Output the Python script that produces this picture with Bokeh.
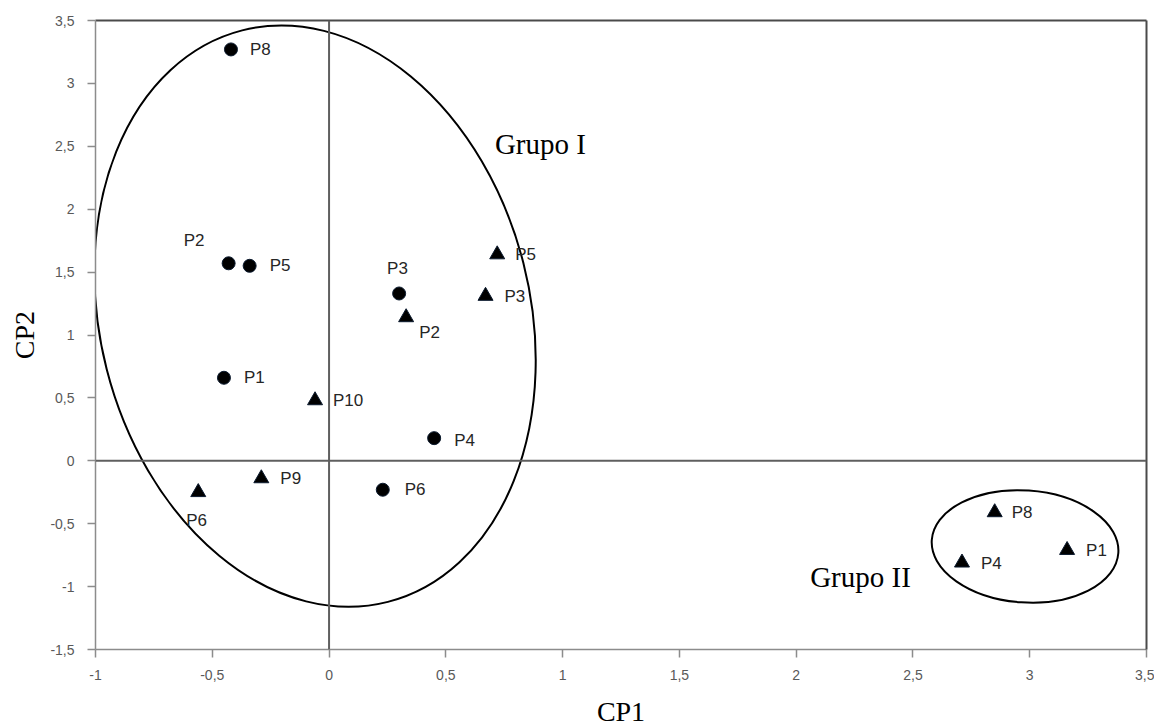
from bokeh.plotting import figure
from bokeh.models import (ColumnDataSource, LabelSet, Span, LinearAxis, FixedTicker, Range1d)
from bokeh.core.properties import value
from bokeh.embed import file_html
from bokeh.resources import INLINE

# ---------------- data ----------------
circle_names = ["P8", "P2", "P5", "P3", "P1", "P4", "P6"]
circle_x = [-0.42, -0.43, -0.34, 0.30, -0.45, 0.45, 0.23]
circle_y = [3.27, 1.57, 1.55, 1.33, 0.66, 0.18, -0.23]

tri_names = ["P5", "P3", "P2", "P10", "P9", "P6", "P8", "P4", "P1"]
tri_x = [0.72, 0.67, 0.33, -0.06, -0.29, -0.56, 2.85, 2.71, 3.16]
tri_y = [1.64, 1.31, 1.14, 0.48, -0.14, -0.25, -0.41, -0.81, -0.71]

x_ticks = [-1, -0.5, 0, 0.5, 1, 1.5, 2, 2.5, 3, 3.5]
x_tick_labels = ["-1", "-0,5", "0", "0,5", "1", "1,5", "2", "2,5", "3", "3,5"]
y_ticks = [-1.5, -1, -0.5, 0, 0.5, 1, 1.5, 2, 2.5, 3, 3.5]
y_tick_labels = ["-1,5", "-1", "-0,5", "0", "0,5", "1", "1,5", "2", "2,5", "3", "3,5"]

group_names = ["Grupo I", "Grupo II"]
group_text_x = [0.71, 2.06]
group_text_y = [2.52, -0.925]
group_ell_x = [-0.06, 2.98]
group_ell_y = [1.15, -0.681]

# label placement (screen px)
circle_dx = [19, -45, 20, -12, 20, 20, 22]
circle_dy = [0, 23, 0, 25, 0, -2, 0]
tri_dx = [18, 19, 13, 18, 19, -12, 17, 19, 19]
tri_dy = [0, 0, -15, 0, 0, -28, 0, -1, 0]

# ---------------- figure ----------------
p = figure(frame_width=1051, frame_height=629,
           x_range=Range1d(-1, 3.5), y_range=Range1d(-1.5, 3.5),
           output_backend="svg", toolbar_location=None,
           min_border_left=95, min_border_right=8, min_border_top=20, min_border_bottom=77,
           background_fill_color="white", border_fill_color="white")
p.outline_line_color = None
p.xgrid.visible = False
p.ygrid.visible = False

for ax, ticks, labels in ((p.xaxis[0], x_ticks, x_tick_labels), (p.yaxis[0], y_ticks, y_tick_labels)):
    ax.ticker = FixedTicker(ticks=ticks)
    ax.major_label_overrides = {t: l for t, l in zip(ticks, labels)}
    ax.axis_line_color = "#8c8c8c"
    ax.axis_line_width = 1.5
    ax.major_tick_line_color = "#8c8c8c"
    ax.major_tick_line_width = 1.5
    ax.major_tick_out = 8
    ax.major_tick_in = 0
    ax.minor_tick_line_color = None
    ax.major_label_text_font = "Liberation Sans"
    ax.major_label_text_font_size = "14px"
    ax.major_label_text_color = "#595959"
    ax.axis_label_text_font = "Liberation Serif"
    ax.axis_label_text_font_size = "28px"
    ax.axis_label_text_font_style = "normal"
    ax.axis_label_text_color = "black"

p.xaxis[0].axis_label = "CP1"
p.yaxis[0].axis_label = "CP2"
p.xaxis[0].major_label_standoff = 12
p.xaxis[0].axis_label_standoff = 13
p.yaxis[0].major_label_standoff = 13
p.yaxis[0].axis_label_standoff = 7

for loc in ("above", "right"):
    ax = LinearAxis(ticker=FixedTicker(ticks=[]), axis_line_color="#4a4a4a", axis_line_width=2,
                    major_tick_line_color=None, minor_tick_line_color=None,
                    major_label_text_font_size="0px")
    p.add_layout(ax, loc)

p.add_layout(Span(location=0, dimension="width", line_color="#5f5f5f", line_width=2))
p.add_layout(Span(location=0, dimension="height", line_color="#5f5f5f", line_width=2))

# group ellipses (screen-sized outlines)
p.ellipse(x=group_ell_x, y=group_ell_y, width=[430, 187], height=[590, 112],
          angle=[14.3, -4], angle_units="deg", width_units="screen", height_units="screen",
          fill_color=None, line_color="black", line_width=2)

csrc = ColumnDataSource(dict(x=circle_x, y=circle_y, name=circle_names, dx=circle_dx, dy=circle_dy))
tsrc = ColumnDataSource(dict(x=tri_x, y=tri_y, name=tri_names, dx=tri_dx, dy=tri_dy))

p.scatter("x", "y", source=csrc, marker="circle", size=13, fill_color="black", line_color="#0b1a2e")
p.scatter("x", "y", source=tsrc, marker="triangle", size=15, fill_color="black", line_color="#0b1a2e")

for src in (csrc, tsrc):
    p.add_layout(LabelSet(x="x", y="y", text="name", source=src, x_offset="dx", y_offset="dy",
                          text_align="left", text_baseline="middle",
                          text_font=value("Liberation Sans"), text_font_size="17px",
                          text_color="#262626"))

p.text(x=group_text_x, y=group_text_y, text=group_names, text_font=value("Liberation Serif"),
       text_font_size="29px", text_color="black", text_align="left", text_baseline="alphabetic")

open("out.html", "w").write(file_html(p, INLINE))
